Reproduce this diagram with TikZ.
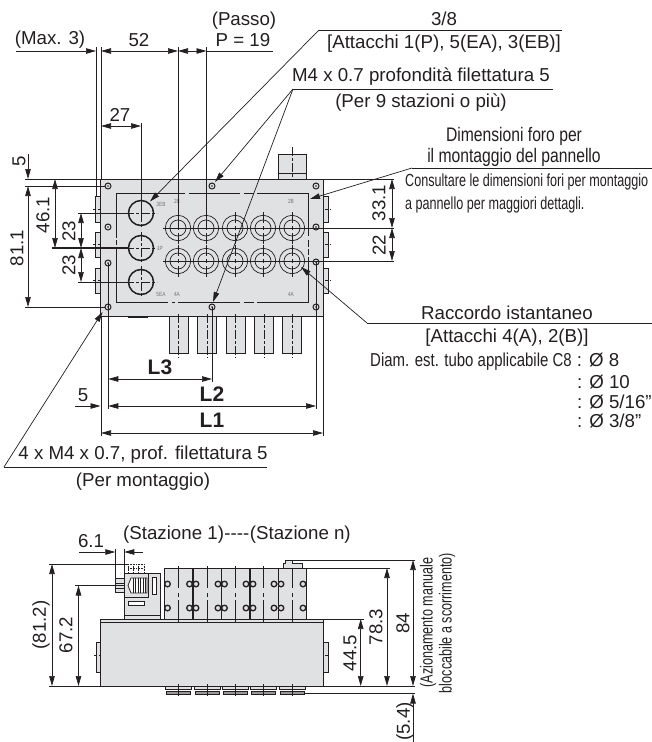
\documentclass[tikz,border=0pt]{standalone}
\usepackage{fontspec}
\setmainfont{Liberation Sans}
\newfontfamily\narrowfont[FakeStretch=0.8]{Liberation Sans}
\newfontfamily\tightfont[FakeStretch=0.72]{Liberation Sans}
\usetikzlibrary{arrows.meta}
\definecolor{ink}{HTML}{231F20}
\definecolor{bodygrey}{HTML}{E0E1E3}
\tikzset{
  lbl/.style={inner sep=0pt,text=ink,font=\fontsize{18.7}{21}\selectfont},
  narrowlbl/.style={inner sep=0pt,text=ink,font=\fontsize{19.6}{22}\selectfont\narrowfont},
  tightlbl/.style={inner sep=0pt,text=ink,font=\fontsize{17.5}{20}\selectfont\tightfont},
  boldlbl/.style={inner sep=0pt,text=ink,font=\fontsize{21}{24}\selectfont\bfseries},
  portlbl/.style={inner sep=0pt,text=black!55,font=\fontsize{6}{7}\selectfont\narrowfont},
  thinline/.style={draw=ink,line width=.7pt},
  dimline/.style={draw=ink,line width=.7pt,{Triangle[length=10pt,width=5.5pt]}-{Triangle[length=10pt,width=5.5pt]}},
  dimend/.style={draw=ink,line width=.7pt,-{Triangle[length=10pt,width=5.5pt]}},
  outline/.style={draw=ink,line width=.8pt,fill=bodygrey},
  centerline/.style={draw=ink,line width=.6pt,dash pattern=on 9pt off 2pt on 3pt off 2pt}
}
\begin{document}
\begin{tikzpicture}[x=1pt,y=-1pt]
\useasboundingbox (0,0) rectangle (652,742);
% top view
\foreach \ya/\yb in {196/222,232/257,268/293}{
  \path[outline] (95,\ya) rectangle (100,\yb);
  \path[outline] (323,\ya) rectangle (328,\yb);
  \path[draw=ink,line width=.5pt,densely dashed] (93,{(\ya+\yb)/2}) -- (103,{(\ya+\yb)/2});
  \path[draw=ink,line width=.5pt,densely dashed] (320,{(\ya+\yb)/2}) -- (331,{(\ya+\yb)/2});
}
\path[outline] (278,154) rectangle (306,179);
\path[thinline] (278,173) -- (306,173);
\path[centerline] (292,147) -- (292,179);
\path[outline] (100,179) rectangle (323,316);
\path[draw=ink,line width=1.2pt] (128,317) -- (148,317);
\foreach \xa in {169,197.5,226,254.5,282.5}{
  \path[outline] (\xa,316) rectangle ({\xa+19},353);
  \path[centerline] ({\xa+9.5},314) -- ({\xa+9.5},358);
}
% panel cut-out
\path[thinline] (116,238) -- (116,193) -- (185,193) (189,193) -- (240,193) (244,193) -- (254,193) (257,193) -- (308,193) -- (308,236)
  (308,240) -- (308,247) (308,249) -- (308,255) (308,257) -- (308,302) -- (257,302) (254,302) -- (244,302) (240,302) -- (178,302)
  (175,302) -- (172,302) (168,302) -- (116,302) -- (116,247) (116,245) -- (116,240);
% mounting holes
\foreach \hx/\hy in {108/186,212/186,316/186,108/227,316/227,108/263,316/262,108/307,212/307,316/307}{
  \path[draw=ink,line width=1pt] (\hx,\hy) circle[radius=3];
  \path[fill=ink] (\hx,\hy) circle[radius=.8];
}
% ports
\foreach \py in {213,248,282}{
  \path[draw=ink,line width=1.5pt] (141,\py) circle[radius=12.5];
  \path[centerline] (125,\py) -- (157,\py);
  \path[centerline] (141,{\py-16}) -- (141,{\py+16});
}
\foreach \py in {228,261}{
  \foreach \px in {178,206,235,263,292}{
    \path[thinline] (\px,\py) circle[radius=12.7];
    \path[thinline] (\px,\py) circle[radius=8];
    \path[thinline] ({\px-2},\py) -- ({\px+2},\py) (\px,{\py-2}) -- (\px,{\py+2});
    \path[thinline] (\px,{\py-16}) -- (\px,{\py-5}) (\px,{\py+5}) -- (\px,{\py+16});
  }
  \path[thinline] (163,\py) -- (394,\py);
}
\node[portlbl] (lab3eb) at (161,204) {3EB};
\node[portlbl] (lab2ba) at (177,201) {2B};
\node[portlbl] (lab2bb) at (291,201) {2B};
\node[portlbl] (lab1p) at (160,248) {1P};
\node[portlbl] (lab5ea) at (161,294) {5EA};
\node[portlbl] (lab4aa) at (177,294) {4A};
\node[portlbl] (lab4ab) at (291,294) {4A};
% dimensions above
\path[thinline] (96,47) -- (96,196);
\path[thinline] (101,47) -- (101,179);
\path[thinline] (141,123) -- (141,213);
\path[thinline] (178,47) -- (178,228);
\path[thinline] (206.5,47) -- (206.5,228);
\path[dimend] (16,51) -- (96,51);
\path[dimline] (101,51) -- (178,51);
\path[dimline] (178,51) -- (206.5,51);
\path[thinline] (206.5,51) -- (273,51);
\path[dimline] (101,126) -- (141,126);
\node[lbl] (maxtre) at (50,40) {(Max. 3)};
\node[lbl] (cinquantadue) at (139,40) {52};
\node[lbl] (passo) at (244,21) {(Passo)};
\node[lbl] (passop) at (243,40) {P = 19};
\node[lbl] (ventisette) at (120,115) {27};
% dimensions left
\path[thinline] (25,179) -- (105,179);
\path[thinline] (25,186) -- (105,186);
\path[thinline] (25,307) -- (105,307);
\path[draw=ink,line width=1.1pt] (52,248) -- (128,248);
\path[thinline] (78,213) -- (128,213);
\path[thinline] (78,282) -- (128,282);
\path[dimend] (28,154) -- (28,179);
\path[dimline] (28,186) -- (28,307);
\path[dimline] (55,179) -- (55,248);
\path[dimline] (81,213) -- (81,248);
\path[dimline] (81,248) -- (81,282);
\node[lbl,rotate=90] (cinque) at (19,161) {5};
\node[lbl,rotate=90] (ottantuno) at (17,248) {81.1};
\node[lbl,rotate=90] (quarantasei) at (43,215) {46.1};
\node[lbl,rotate=90] (ventitrea) at (69,231) {23};
\node[lbl,rotate=90] (ventitreb) at (69,265) {23};
% dimensions below
\path[draw=ink,line width=1pt] (108.3,263) -- (108.3,409);
\path[thinline] (101,316) -- (101,436);
\path[thinline] (212,307) -- (212,382);
\path[draw=ink,line width=1pt] (316,262) -- (316,409);
\path[thinline] (323,316) -- (323,436);
\path[dimline] (108.3,379) -- (212,379);
\path[dimline] (108.3,406) -- (316,406);
\path[dimline] (101,433) -- (323,433);
\path[dimend] (75,406) -- (100.5,406);
\node[lbl] (cinquebis) at (83,395) {5};
\node[boldlbl] (ltre) at (160,367) {L3};
\node[boldlbl] (ldue) at (212,394) {L2};
\node[boldlbl] (luno) at (212,420) {L1};
% dimensions right
\path[thinline] (323,179) -- (394,179);
\path[dimline] (392,179) -- (392,228);
\path[dimline] (392,228) -- (392,261);
\node[lbl,rotate=90] (trentatre) at (379,203) {33.1};
\node[lbl,rotate=90] (ventidue) at (379,245) {22};
% leaders
\coordinate (tipbig) at (150,201.5);
\coordinate (tiptop) at (215,182);
\coordinate (tipbot) at (213,302);
\coordinate (tippanel) at (310,199);
\coordinate (tipfit) at (301,267);
\coordinate (tipfour) at (102.5,312);
\path[thinline] (562,30) -- (319,30);
\path[dimend] (319,30) -- (tipbig);
\path[thinline] (553,89) -- (293,89);
\path[dimend] (293,89) -- (tiptop);
\path[dimend] (293,89) -- (tipbot);
\path[thinline] (652,168) -- (412,168);
\path[dimend] (412,168) -- (tippanel);
\path[thinline] (652,323) -- (367,323);
\path[dimend] (367,323) -- (tipfit);
\path[thinline] (267,467) -- (4,467);
\path[dimend] (4,467) -- (tipfour);
\node[lbl] (treottavi) at (444,19) {3/8};
\node[lbl] (attacchia) at (444,44) {[Attacchi 1(P), 5(EA), 3(EB)]};
\node[lbl] (filetto) at (421,77) {M4 x 0.7 profondità filettatura 5};
\node[lbl] (nove) at (421,103) {(Per 9 stazioni o più)};
\node[narrowlbl] (foroa) at (514,136) {Dimensioni foro per};
\node[narrowlbl] (forob) at (514,157) {il montaggio del pannello};
\node[tightlbl,anchor=west] (consulta) at (405,182) {Consultare le dimensioni fori per montaggio};
\node[tightlbl,anchor=west] (pannello) at (405,205) {a pannello per maggiori dettagli.};
\node[lbl] (raccordo) at (507,313) {Raccordo istantaneo};
\node[lbl] (attacchib) at (507,338) {[Attacchi 4(A), 2(B)]};
\node[lbl,anchor=west] (diam) at (370,362) {{\narrowfont Diam. est. tubo applicabile C8} : Ø 8};
\node[lbl,anchor=west] (diamb) at (577,382) {: Ø 10};
\node[lbl,anchor=west] (diamc) at (577,402) {: Ø 5/16"};
\node[lbl,anchor=west] (diamd) at (577,421) {: Ø 3/8"};
\node[lbl] (quattro) at (143,455) {4 x M4 x 0.7, prof. filettatura 5};
\node[lbl] (montaggio) at (143,482) {(Per montaggio)};
% side view
\path[outline] (96,642) rectangle (100,672);
\path[outline] (323,642) rectangle (328,672);
\path[draw=ink,line width=.5pt,densely dashed] (94,655) -- (103,655);
\path[draw=ink,line width=.5pt,densely dashed] (320,655) -- (330,655);
\path[outline] (100,619) rectangle (323,622);
\path[outline] (100,622) rectangle (323,686);
\path[outline] (124,573) rectangle (160.5,619);
\path[thinline] (124,597) -- (148,597) -- (148,573);
\path[thinline] (124,615) -- (160.5,615);
\path[outline] (115.5,578) rectangle (124,592.5);
\path[thinline] (115.5,583) -- (124,583) (115.5,588) -- (124,588);
\path[outline,fill=white] (152,577) rectangle (156,594);
\path[outline,fill=white] (128,601) rectangle (144.5,605);
\path[outline,fill=white] (131,578) -- (147,578) -- (147,593) -- (131,593) -- (128,585.5) -- cycle;
\foreach \fx in {133,135.5,...,146}{
  \path[draw=ink,line width=.8pt] (\fx,578) -- (\fx,593);
}
\path[draw=ink,line width=.6pt,densely dotted] (128,564) -- (144,564) -- (144,573) (128,564) -- (128,573) (133,564) -- (133,573) (138,564) -- (138,573) (128,568) -- (144,568);
\path[outline] (164.5,568) rectangle (306,619);
\foreach \dx in {193,221.5,250,278.5}{
  \path[draw=ink,line width=1.2pt] (\dx,568) -- (\dx,619);
}
\foreach \cx in {178.5,207,235,263,292}{
  \path[draw=ink,line width=.6pt,dash pattern=on 22pt off 5pt on 4pt off 3pt on 24pt] (\cx,566) -- (\cx,622);
}
\foreach \cx in {167.5,189.5,196,218,224.5,246,253,274,281,303}{
  \path[draw=ink,line width=1.3pt] (\cx,584) circle[radius=2.8];
  \path[draw=ink,line width=1.3pt] (\cx,608) circle[radius=2.8];
}
\path[outline] (283,568) -- (283,563) -- (285,563) -- (285,560) -- (292,560) -- (292,563) -- (302,563) -- (302,568) -- cycle;
\foreach \sx in {165.5,194,222,250,279}{
  \path[outline] (\sx,686.5) rectangle ({\sx+26},689);
  \path[outline,fill=black!40] ({\sx+1},691.5) rectangle ({\sx+25},694);
}
\foreach \cx in {178.5,207,235,263,292}{
  \path[draw=ink,line width=.6pt] (\cx,684) -- (\cx,696);
}
% side dimensions
\path[thinline] (115.3,549) -- (115.3,592);
\path[thinline] (124.3,549) -- (124.3,573);
\path[dimend] (79,552) -- (115.3,552);
\path[dimend] (143,552) -- (124.3,552);
\path[thinline] (49,564) -- (128,564);
\path[thinline] (75,585.5) -- (124,585.5);
\path[draw=ink,line width=1pt] (49,686) -- (105,686);
\path[draw=ink,line width=1pt] (323,686) -- (415,686);
\path[thinline] (305,693.5) -- (415,693.5);
\path[thinline] (323,619) -- (364,619);
\path[thinline] (306,568) -- (390,568);
\path[thinline] (290,560) -- (415,560);
\path[dimline] (52,564) -- (52,686);
\path[dimline] (78.5,585.5) -- (78.5,686);
\path[dimline] (360.7,619) -- (360.7,686);
\path[dimline] (387,568) -- (387,686);
\path[dimline] (413,560) -- (413,686);
\path[dimend] (413,742) -- (413,693.5);
\node[lbl] (seiuno) at (91,541) {6.1};
\node[lbl,anchor=west] (stazione) at (123,535) {(Stazione 1)\kern.5pt-{}-{}-{}-\kern.5pt(Stazione n)};
\node[lbl,rotate=90] (ottantunodue) at (41,625) {(81.2)};
\node[lbl,rotate=90] (sessantasette) at (66,635) {67.2};
\node[lbl,rotate=90] (quarantaquattro) at (350,653) {44.5};
\node[lbl,rotate=90] (settantotto) at (376,627) {78.3};
\node[lbl,rotate=90] (ottantaquattro) at (403,623) {84};
\node[lbl,rotate=90] (cinquequattro) at (405,721.5) {(5.4)};
\node[tightlbl,rotate=90] (azionamento) at (428,622.5) {(Azionamento manuale};
\node[tightlbl,rotate=90] (bloccabile) at (447,623) {bloccabile a scorrimento)};
\end{tikzpicture}
\end{document}
